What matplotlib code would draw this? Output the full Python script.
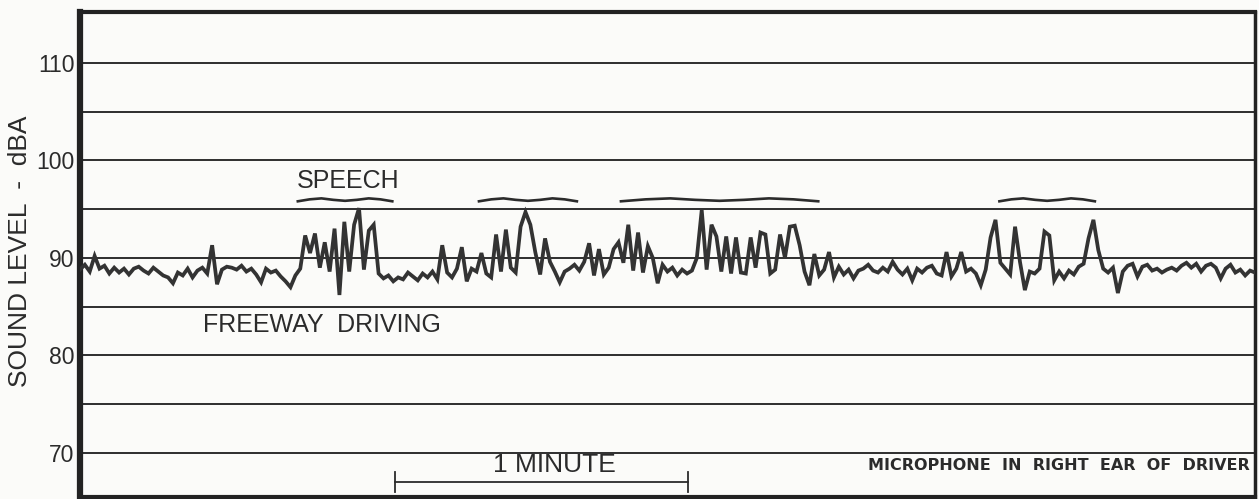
import matplotlib
matplotlib.use("Agg")
import matplotlib.pyplot as plt

plt.rcParams['font.family'] = ['Liberation Sans', 'DejaVu Sans']

# sound level trace, one reading per second (0 - 240 s)
level = [
    88.8, 89.3, 88.6, 90.2, 88.9, 89.2, 88.4, 89.0, 88.5, 88.9,
    88.3, 88.9, 89.1, 88.7, 88.4, 89.0, 88.6, 88.2, 88.0, 87.4,
    88.5, 88.2, 88.9, 88.0, 88.7, 89.0, 88.4, 91.3, 87.3, 88.8,
    89.1, 89.0, 88.8, 89.2, 88.6, 88.9, 88.3, 87.5, 88.9, 88.5,
    88.7, 88.1, 87.6, 87.0, 88.2, 88.9, 92.3, 90.5, 92.5, 89.0,
    91.6, 88.6, 93.0, 86.2, 93.7, 88.6, 93.4, 95.1, 88.8, 92.8,
    93.4, 88.4, 87.9, 88.2, 87.6, 88.0, 87.8, 88.5, 88.1, 87.7,
    88.4, 88.0, 88.6, 87.8, 91.3, 88.5, 88.0, 88.9, 91.1, 87.6,
    88.9, 88.6, 90.5, 88.4, 88.0, 92.4, 88.6, 92.9, 89.0, 88.5,
    93.2, 94.7, 93.4, 90.6, 88.3, 92.0, 89.6, 88.6, 87.5, 88.6,
    88.9, 89.3, 88.7, 89.6, 91.5, 88.2, 90.9, 88.3, 89.0, 90.9,
    91.6, 89.5, 93.4, 88.7, 92.6, 88.5, 91.2, 90.0, 87.4, 89.3,
    88.6, 89.0, 88.2, 88.8, 88.4, 88.7, 90.0, 94.9, 88.8, 93.4,
    92.2, 88.6, 92.2, 88.4, 92.1, 88.5, 88.4, 92.1, 89.0, 92.6,
    92.4, 88.4, 88.8, 92.4, 90.0, 93.2, 93.3, 91.3, 88.6, 87.2,
    90.4, 88.2, 88.8, 90.6, 88.0, 89.1, 88.3, 88.8, 87.9, 88.7,
    88.9, 89.3, 88.7, 88.5, 89.0, 88.6, 89.6, 88.8, 88.3, 88.9,
    87.7, 88.9, 88.5, 89.0, 89.2, 88.4, 88.2, 90.6, 88.1, 88.9,
    90.6, 88.6, 88.9, 88.4, 87.2, 88.8, 92.1, 93.9, 89.5, 88.9,
    88.3, 93.2, 89.6, 86.7, 88.6, 88.4, 88.9, 92.7, 92.3, 87.7,
    88.6, 87.9, 88.7, 88.3, 89.1, 89.4, 92.0, 93.9, 90.8, 88.9,
    88.5, 89.0, 86.4, 88.6, 89.2, 89.4, 88.1, 89.1, 89.3, 88.7,
    88.9, 88.5, 88.8, 89.0, 88.7, 89.2, 89.5, 89.0, 89.4, 88.6,
    89.2, 89.4, 89.0, 87.9, 88.9, 89.3, 88.5, 88.8, 88.2, 88.7,
    88.5,
]
seconds = list(range(len(level)))

# speech markers (start, end in seconds)
speech_spans = [(44.5, 63.8), (81.5, 101.5), (110.5, 150.8), (187.8, 207.3)]
speech_y = 95.8

minute_bar = (64.3, 124.2)
yticks = [70, 80, 90, 100, 110]
grid_levels = [70, 75, 80, 85, 90, 95, 100, 105, 110]

ink = '#2b2b2b'

fig = plt.figure(figsize=(12.59, 4.99), dpi=100)
fig.patch.set_facecolor('#fbfbf9')
ax = fig.add_axes([0.0635, 0.004, 0.9333, 0.972])
ax.set_facecolor('#fbfbf9')

for g in grid_levels:
    ax.axhline(g, color='#1e1e1e', lw=1.3, zorder=1)

ax.plot(seconds, level, color='#333333', lw=2.7, solid_joinstyle='miter', zorder=3)

# wavy brackets over speech
for s, e in speech_spans:
    n = 9
    xs = [s + (e - s) * i / (n - 1) for i in range(n)]
    wob = [0.0, 0.2, 0.3, 0.15, 0.05, 0.15, 0.3, 0.2, 0.0]
    ys = [speech_y + w for w in wob]
    ax.plot(xs, ys, color=ink, lw=1.9, zorder=3)

ax.text(44.3, 97.9, 'SPEECH', fontsize=18, va='center', ha='left', color=ink)
ax.text(25.1, 83.1, 'FREEWAY  DRIVING', fontsize=18, va='center', ha='left', color=ink)

# one minute scale bar
ax.plot(minute_bar, [67.0, 67.0], color=ink, lw=1.3)
for xb in minute_bar:
    ax.plot([xb, xb], [66.0, 68.1], color=ink, lw=1.3)
ax.text(97.0, 68.8, '1 MINUTE', fontsize=19, ha='center', va='center', color=ink)

ax.text(239.0, 68.7, 'MICROPHONE  IN  RIGHT  EAR  OF  DRIVER', fontsize=11.5,
        fontweight='bold', ha='right', va='center', color=ink,
        family=['Liberation Sans Narrow', 'DejaVu Sans'])

ax.set_xlim(0, 240)
ax.set_ylim(65.5, 115.2)
ax.set_xticks([])
ax.set_yticks(yticks)
ax.set_yticklabels([str(v) for v in yticks], fontsize=16.5, color=ink)
ax.tick_params(axis='y', length=0, pad=4)
ax.set_ylabel('SOUND LEVEL  -  dBA', fontsize=19, color=ink)
ax.yaxis.set_label_coords(-0.041, 0.507)

for side, w in [('left', 4.5), ('bottom', 3), ('top', 3), ('right', 2.5)]:
    ax.spines[side].set_linewidth(w)
    ax.spines[side].set_color('#222222')

fig.savefig('out.png', dpi=100, facecolor=fig.get_facecolor())
